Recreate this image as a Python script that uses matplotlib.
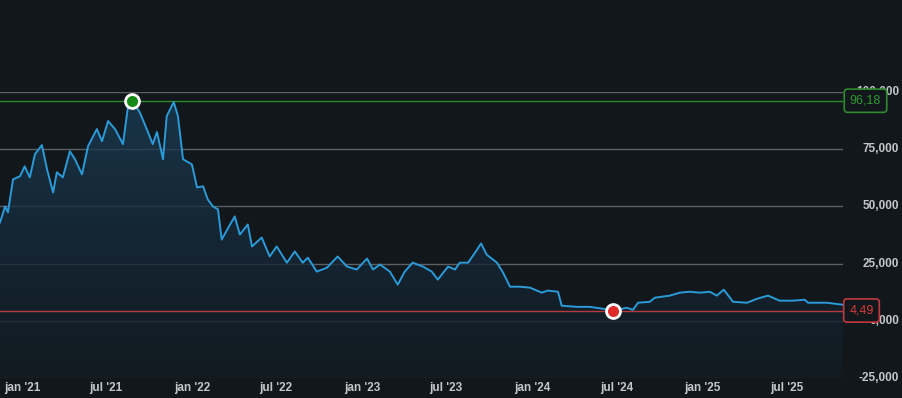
import matplotlib
matplotlib.use('Agg')
import matplotlib.pyplot as plt
import matplotlib.dates as mdates
import matplotlib.transforms as mtransforms
from matplotlib.colors import LinearSegmentedColormap
import numpy as np
import pandas as pd

# price history
dates = ['2020-11-15', '2020-11-26', '2020-12-02', '2020-12-13', '2020-12-28',
         '2021-01-07', '2021-01-18', '2021-01-29', '2021-02-13', '2021-02-24',
         '2021-03-09', '2021-03-17', '2021-03-30', '2021-04-14', '2021-04-25',
         '2021-05-10', '2021-05-23', '2021-06-11', '2021-06-22', '2021-07-05',
         '2021-07-20', '2021-08-06', '2021-08-17', '2021-08-25', '2021-09-11',
         '2021-09-26', '2021-10-09', '2021-10-18', '2021-10-31', '2021-11-08',
         '2021-11-23', '2021-12-02', '2021-12-13', '2022-01-01', '2022-01-12',
         '2022-01-25', '2022-02-04', '2022-02-15', '2022-02-26', '2022-03-06',
         '2022-03-24', '2022-04-03', '2022-04-14', '2022-05-01', '2022-05-10',
         '2022-05-31', '2022-06-17', '2022-07-02', '2022-07-24', '2022-08-10',
         '2022-08-27', '2022-09-07', '2022-09-26', '2022-10-18', '2022-11-10',
         '2022-11-30', '2022-12-21', '2023-01-12', '2023-01-25', '2023-02-09',
         '2023-03-02', '2023-03-19', '2023-04-03', '2023-04-20', '2023-05-12',
         '2023-05-31', '2023-06-13', '2023-07-05', '2023-07-20', '2023-07-30',
         '2023-08-17', '2023-09-01', '2023-09-14', '2023-09-26', '2023-10-18',
         '2023-10-31', '2023-11-15', '2023-12-06', '2023-12-28', '2024-01-22',
         '2024-02-04', '2024-02-26', '2024-03-05', '2024-04-07', '2024-05-04',
         '2024-06-01', '2024-06-23', '2024-07-23', '2024-08-05', '2024-08-16',
         '2024-09-10', '2024-09-21', '2024-10-23', '2024-11-14', '2024-12-05',
         '2024-12-27', '2025-01-17', '2025-02-01', '2025-02-16', '2025-03-08',
         '2025-04-07', '2025-04-28', '2025-05-22', '2025-06-16', '2025-07-14',
         '2025-08-09', '2025-08-16', '2025-09-25', '2025-10-30']
values = [43000, 50000, 47400, 61800, 63200,
          67500, 62700, 72800, 76800, 66200,
          56100, 64900, 62700, 74100, 70600,
          64000, 76300, 83800, 78500, 87300,
          83800, 77200, 93900, 96180, 91200,
          83800, 77200, 82500, 70600, 89500,
          95600, 89500, 70600, 68400, 58300,
          58800, 53100, 50000, 48700, 35500,
          42100, 45600, 37700, 42100, 32500,
          36400, 28100, 32500, 25400, 30300,
          25400, 27600, 21500, 23200, 28100,
          23700, 22400, 27200, 22400, 24600,
          21500, 15800, 21500, 25400, 23700,
          21500, 18000, 23700, 22400, 25400,
          25400, 29800, 33800, 28900, 25400,
          21100, 14900, 14900, 14500, 12300,
          13200, 12700, 6600, 6100, 6100,
          5300, 4490, 5700, 4800, 7900,
          8300, 10100, 11000, 12300, 12700,
          12300, 12700, 11000, 13600, 8300,
          7900, 9600, 11000, 8800, 8800,
          9200, 7900, 7900, 7000]

y_ticks = [-25000, 0, 25000, 50000, 75000, 100000]
y_labels = ['-25,000', '0,000', '25,000', '50,000', '75,000', '100,000']
x_ticks = ['2021-01-01', '2021-07-01', '2022-01-01', '2022-07-01', '2023-01-01',
           '2023-07-01', '2024-01-01', '2024-07-01', '2025-01-01', '2025-07-01']
x_labels = ["jan '21", "jul '21", "jan '22", "jul '22", "jan '23",
            "jul '23", "jan '24", "jul '24", "jan '25", "jul '25"]
max_label = '96,18'
min_label = '4,49'

BG = '#12171b'
GRID = '#5a6066'
LINE = '#2b9ad8'
TXT = '#c4c7ca'

plt.rcParams['font.family'] = ['Liberation Sans', 'DejaVu Sans']

x = pd.to_datetime(dates)
y = np.array(values, dtype=float)

fig = plt.figure(figsize=(9.03, 3.98), dpi=100, facecolor=BG)
ax = fig.add_axes([0.0, 1 - 378 / 398, 843 / 903, 286 / 398])
ax.set_facecolor(BG)
ax.set_ylim(-25000, 100000)
ax.set_xlim(x[0], x[-1])
for s in ax.spines.values():
    s.set_visible(False)

# grid
for v in y_ticks:
    ax.axhline(v, color=GRID, lw=1, zorder=1)

# gradient area under the line (see-through so grid shows)
poly = ax.fill_between(x, y, -25000, color='none', lw=0)
cmap = LinearSegmentedColormap.from_list('fade', ['#121c23', '#162b3c', '#1b4059'])
grad = np.linspace(0, 1, 256).reshape(-1, 1)
xn = mdates.date2num(x)
im = ax.imshow(grad, extent=[xn[0], xn[-1], -25000, 100000], origin='lower',
               aspect='auto', cmap=cmap, alpha=0.75, zorder=2)
im.set_clip_path(poly.get_paths()[0], transform=ax.transData)

ax.plot(x, y, color=LINE, lw=1.4, zorder=4)

# max / min lines with markers
imax = int(np.argmax(y))
imin = int(np.argmin(y))
ax.axhline(y[imax], color='#2f8a2f', lw=1, zorder=3)
ax.axhline(y[imin], color='#b5393e', lw=1, zorder=3)
ax.plot(x[imax], y[imax], 'o', ms=10, mfc='#168a16', mec='white', mew=2, zorder=6)
ax.plot(x[imin], y[imin], 'o', ms=10, mfc='#e02a2a', mec='white', mew=2, zorder=6)

# y labels on the right
trans = mtransforms.blended_transform_factory(fig.transFigure, ax.transData)
for v, lab in zip(y_ticks, y_labels):
    ax.text(899 / 903, v, lab, transform=trans, ha='right', va='center',
            color=TXT, fontsize=8.5, fontweight='bold', clip_on=False, zorder=5)

# value boxes (they sit over the axis labels, as in the original)
ax.text(865.5 / 903, y[imax], max_label, transform=trans, ha='center', va='center',
        color='#2f9a2f', fontsize=9, clip_on=False, zorder=7,
        bbox=dict(boxstyle='round,pad=0.45,rounding_size=0.25', fc=BG, ec='#2f8a2f', lw=1.2))
ax.text(861.5 / 903, y[imin], min_label, transform=trans, ha='center', va='center',
        color='#d83a3a', fontsize=9, clip_on=False, zorder=7,
        bbox=dict(boxstyle='round,pad=0.45,rounding_size=0.25', fc=BG, ec='#c0393e', lw=1.2))

# x labels
ax.set_yticks([])
ax.set_xticks(pd.to_datetime(x_ticks))
ax.set_xticklabels(x_labels, color=TXT, fontsize=8.5, fontweight='bold')
ax.tick_params(axis='x', length=0, pad=3)

fig.savefig('out.png', dpi=100, facecolor=BG)
